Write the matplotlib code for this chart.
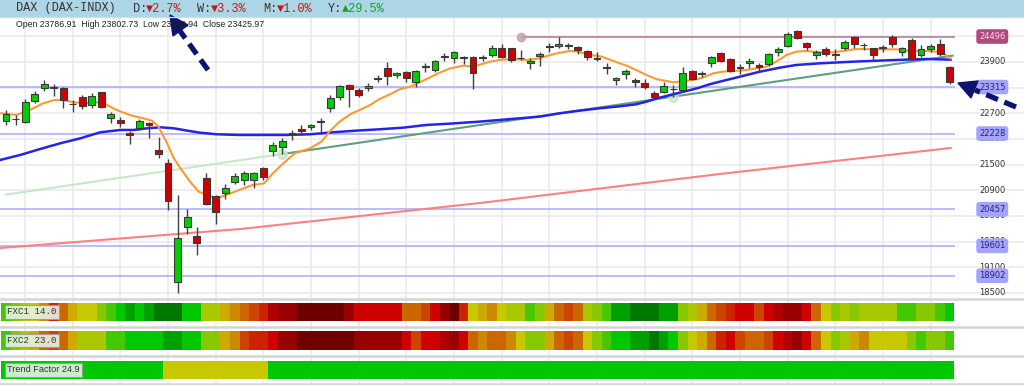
import matplotlib
matplotlib.use("Agg")
import matplotlib.pyplot as plt
import matplotlib.transforms as mtransforms
from matplotlib.patches import Rectangle, Polygon

# ---- daily candles (DAX), oldest first ----
opens = [22529, 22560, 22490, 22997, 23285, 23310, 23300, 22925, 23075, 22895,
         23191, 22584, 22545, 22233, 22350, 22482, 21844, 21532, 18767, 20050,
         19826, 21197, 20775, 20830, 21088, 21142, 21142, 21431, 21820, 21905,
         22240, 22326, 22381, 22500, 22817, 23075, 23363, 23246, 23285, 23512,
         23752, 23596, 23658, 23425, 23786, 23705, 24020, 23986, 24014, 24009,
         24004, 24064, 24235, 24235, 24001, 23869, 24040, 24253, 24274, 24278,
         24251, 24157, 24001, 23763, 23479, 23612, 23479, 23401, 23183, 23207,
         23264, 23246, 23697, 23630, 23869, 24103, 23962, 23770, 23884, 23830,
         23853, 24142, 24282, 24633, 24336, 24064, 24204, 24074, 24235, 24477,
         24292, 24220, 24230, 24492, 24126, 24414, 24064, 24204, 24321, 23787]
highs = [22778, 22662, 23035, 23222, 23472, 23378, 23310, 23012, 23129, 23184,
         23207, 22724, 22607, 22287, 22568, 22506, 22140, 21625, 20791, 20465,
         20035, 21298, 20791, 21041, 21298, 21352, 21330, 21454, 22038, 22116,
         22311, 22428, 22451, 22599, 23129, 23363, 23386, 23285, 23402, 23596,
         23908, 23674, 23690, 23713, 23869, 23947, 24103, 24157, 24048, 24048,
         24064, 24297, 24313, 24235, 24181, 23986, 24126, 24336, 24485, 24336,
         24282, 24181, 24142, 23869, 23557, 23736, 23534, 23495, 23230, 23440,
         23363, 23791, 23713, 23690, 24048, 24126, 23986, 23845, 23986, 23869,
         24103, 24258, 24609, 24648, 24375, 24181, 24258, 24204, 24414, 24516,
         24336, 24235, 24297, 24531, 24258, 24453, 24297, 24313, 24430, 23803]
lows = [22428, 22428, 22467, 22934, 23222, 23113, 22817, 22724, 22802, 22833,
        22817, 22467, 22389, 21976, 22311, 22132, 21664, 20441, 18494, 19871,
        19390, 20558, 20113, 20698, 21041, 21026, 20948, 21142, 21711, 21749,
        22077, 22233, 22311, 22210, 22740, 23012, 22856, 23090, 23222, 23440,
        23363, 23534, 23425, 23324, 23674, 23658, 23923, 23869, 23845, 23269,
        23923, 24009, 23986, 23908, 23947, 23736, 23814, 24126, 24220, 24204,
        24079, 23947, 23923, 23612, 23362, 23503, 23324, 23269, 23051, 23168,
        23090, 23207, 23479, 23557, 23791, 23892, 23674, 23612, 23752, 23697,
        23814, 24048, 24258, 24438, 24181, 23970, 24048, 23947, 24181, 24235,
        24181, 23923, 24142, 24258, 24048, 23947, 24025, 24142, 24048, 23381]
closes = [22677, 22560, 22973, 23145, 23378, 23295, 23020, 22915, 22872, 23105,
          22856, 22677, 22467, 22186, 22529, 22428, 21742, 20659, 19779, 20269,
          19661, 20574, 20401, 20947, 21244, 21314, 21314, 21220, 21960, 22054,
          22228, 22280, 22420, 22510, 23067, 23339, 23261, 23129, 23347, 23522,
          23581, 23635, 23534, 23690, 23796, 23923, 24030, 24126, 24004, 23651,
          24014, 24220, 24025, 23947, 23986, 23931, 24087, 24263, 24313, 24286,
          24173, 24009, 23962, 23773, 23534, 23697, 23425, 23324, 23074, 23339,
          23274, 23635, 23495, 23640, 24025, 23923, 23697, 23780, 23923, 23775,
          24079, 24196, 24547, 24453, 24258, 24142, 24079, 24084, 24360, 24313,
          24302, 24064, 24240, 24313, 24220, 23970, 24204, 24266, 24079, 23426]

# ---- overlays: (candle index, price) ----
fast_x = [-0.5, 1.1, 2.5, 3.9, 5.1, 6.0, 7.1, 8.1, 9.5, 10.6, 11.6, 12.5, 13.2, 14.4,
          15.3, 16.0, 16.9, 17.6, 18.3, 19.3, 20.2, 21.2, 22.1, 23.1, 24.5, 25.9,
          27.1, 28.0, 29.1, 30.3, 31.9, 33.1, 34.0, 35.0, 36.1, 37.1, 38.2, 39.2,
          40.3, 41.3, 42.4, 43.4, 44.5, 45.5, 46.6, 48.0, 49.0, 50.8, 51.8, 53.2,
          54.6, 56.0, 57.1, 58.1, 59.2, 60.0, 61.3, 62.5, 64.1, 65.1, 66.1, 67.2,
          68.3, 69.3, 70.0, 70.7, 72.1, 73.1, 74.2, 75.2, 76.3, 77.7, 78.7, 79.8,
          80.8, 81.9, 82.9, 84.0, 85.4, 86.8, 87.8, 88.9, 89.9, 91.0, 92.4, 93.4,
          94.4, 95.5, 96.6, 97.6, 98.5, 99.1]
fast_y = [22701, 22662, 22779, 22934, 23012, 23012, 22958, 22934, 22958, 22895, 22779,
          22701, 22646, 22584, 22529, 22389, 22000, 21649, 21415, 21104, 20870, 20777,
          20714, 20792, 20909, 21026, 21065, 21298, 21532, 21766, 21883, 22039, 22288,
          22506, 22677, 22779, 22895, 23036, 23145, 23262, 23324, 23425, 23542, 23651,
          23752, 23815, 23791, 23908, 23947, 23970, 23947, 23986, 24064, 24118, 24157,
          24142, 24064, 24025, 23892, 23815, 23713, 23596, 23495, 23456, 23425, 23441,
          23480, 23534, 23635, 23674, 23690, 23713, 23752, 23791, 23908, 24064, 24142,
          24157, 24126, 24126, 24157, 24196, 24204, 24196, 24196, 24196, 24165, 24157,
          24157, 24142, 24079, 23980]
slow_x = [-0.6, 1.5, 3.6, 5.7, 7.8, 9.9, 12.0, 13.4, 14.8, 16.2, 17.6, 19.0, 20.3,
          22.1, 24.5, 27.0, 29.4, 31.9, 34.3, 36.8, 39.2, 41.7, 44.1, 46.6, 49.7,
          51.8, 53.9, 56.0, 58.1, 60.2, 62.3, 64.4, 66.1, 67.2, 68.3, 69.3, 70.7,
          72.5, 73.8, 74.9, 77.0, 79.1, 81.2, 82.9, 85.4, 88.9, 92.4, 94.5, 96.6, 99.1]
slow_y = [21610, 21727, 21867, 22000, 22116, 22257, 22311, 22311, 22350, 22373, 22350,
          22296, 22249, 22210, 22194, 22194, 22194, 22210, 22257, 22296, 22327, 22366,
          22428, 22459, 22506, 22545, 22584, 22623, 22701, 22763, 22818, 22864, 22911,
          22973, 23051, 23106, 23184, 23285, 23378, 23441, 23557, 23674, 23768, 23830,
          23869, 23908, 23939, 23955, 23970, 23955]
long_x = [-0.63, 24.6, 49.7, 74.9, 99.1]
long_y = [19551, 19996, 20603, 21282, 21889]
trend_x = [0, 29, 70, 99.3]
trend_y = [20800, 21749, 23090, 24048]

levels = [23315, 22228, 20457, 19601, 18902]
resist = 24496
resist_from = 54
price_ticks = [18500, 19100, 19700, 20300, 20900, 21500, 22100, 22700, 23300, 23900]

# ---- colour-coded indicator rows (0 = deep red ... 15 = deep green) ----
palette = ["#6e0000", "#990000", "#b00000", "#d00000", "#cc2200", "#cc4400",
           "#cc6600", "#cc8800", "#ccaa00", "#c8c800", "#aac800", "#88c800",
           "#44c800", "#00c800", "#00a000", "#007800"]
fxc1 = [12, 11, 10, 9, 7, 4, 6, 8, 9, 9,
        11, 12, 13, 14, 13, 14, 15, 15, 15, 13,
        13, 10, 10, 8, 7, 6, 5, 4, 2, 1,
        1, 0, 0, 0, 0, 0, 1, 3, 3, 3,
        3, 3, 6, 6, 5, 3, 1, 0, 4, 9,
        8, 7, 9, 10, 10, 12, 11, 8, 6, 5,
        6, 10, 11, 12, 14, 14, 15, 15, 15, 14,
        14, 11, 10, 8, 6, 5, 4, 3, 3, 5,
        3, 2, 1, 1, 3, 6, 9, 11, 10, 11,
        10, 10, 10, 10, 12, 12, 11, 11, 12, 13]
fxc2 = [12, 11, 10, 8, 6, 5, 6, 8, 10, 10,
        10, 12, 12, 13, 13, 13, 13, 14, 14, 13,
        13, 11, 11, 8, 7, 5, 4, 4, 3, 1,
        1, 0, 0, 0, 0, 0, 0, 1, 1, 1,
        1, 1, 3, 5, 3, 3, 2, 1, 3, 6,
        7, 6, 6, 7, 9, 11, 11, 8, 6, 5,
        6, 9, 11, 12, 13, 13, 14, 14, 15, 14,
        13, 11, 9, 8, 6, 4, 3, 5, 6, 6,
        5, 3, 2, 1, 3, 6, 9, 11, 10, 8,
        7, 9, 9, 9, 9, 11, 12, 11, 11, 12]
trend = [13] * 17 + [9] * 11 + [13] * 72

W, H = 1024, 385
XMIN, XMAX = -0.63, 106.8


def rect(x0, y0, x1, y1):
    return [x0 / W, 1 - y1 / H, (x1 - x0) / W, (y1 - y0) / H]


fig = plt.figure(figsize=(W / 100, H / 100), dpi=100)
fig.patch.set_facecolor("white")

# price panel
ax = fig.add_axes(rect(0, 17, W, 297))
ax.set_xlim(XMIN, XMAX)
ax.set_ylim(18406, 24952)
ax.axis("off")
for t in price_ticks + [24500]:
    ax.axhline(t, color="#ebebeb", lw=1.2, zorder=0)
for g in range(2, 100, 5):
    ax.axvline(g, color="#ebebeb", lw=1.2, zorder=0)

ax.hlines(levels, XMIN, 99.6, color="#a8a8ff", lw=1.1, zorder=1)
ax.hlines(resist, resist_from, 99.6, color="#a87890", lw=1.1, zorder=1)
ax.plot(resist_from, resist, "o", ms=6, color="#c0a0b0", alpha=0.8, zorder=2)

ax.plot(long_x, long_y, color="#ff8080", lw=1.5, zorder=2)
ax.plot(trend_x[:2], trend_y[:2], color="#c8e6c8", lw=1.5, zorder=2)
ax.plot(trend_x[1:], trend_y[1:], color="#5f9e80", lw=1.5, zorder=2)
ax.plot(trend_x[1:3], trend_y[1:3], "o", ms=7, color="#c8e6c8", alpha=0.8, zorder=2)
ax.plot(slow_x, slow_y, color="#2424e8", lw=1.8, zorder=3)
ax.plot(fast_x, fast_y, color="#ff9a30", lw=1.5, zorder=3)

idx = list(range(len(closes)))
ax.vlines(idx, lows, highs, color="#404040", lw=1.0, zorder=4)
body_col = ["#00cc00" if c >= o else "#cc0000" for o, c in zip(opens, closes)]
body_h = [c - o for o, c in zip(opens, closes)]
ax.bar(idx, body_h, bottom=opens, width=0.72, color=body_col,
       edgecolor="#3a3a3a", linewidth=0.8, zorder=5)

lab_tr = mtransforms.blended_transform_factory(ax.transAxes, ax.transData)
for t in price_ticks:
    ax.text(0.969, t, str(t), transform=lab_tr, ha="center", va="center",
            fontsize=6, color="#333333", zorder=6)
for lv in levels:
    ax.text(0.969, lv, str(lv), transform=lab_tr, ha="center", va="center",
            fontsize=6, color="#22228a", zorder=7,
            bbox=dict(boxstyle="round,pad=0.25", fc="#a4a4f8", ec="#a4a4f8"))
ax.text(0.969, resist, str(resist), transform=lab_tr, ha="center", va="center",
        fontsize=6, color="#f4d8e6", zorder=7,
        bbox=dict(boxstyle="round,pad=0.25", fc="#b04a7c", ec="#b04a7c"))

# indicator rows
ind = fig.add_axes(rect(0, 297, W, H))
ind.set_xlim(XMIN, XMAX)
ind.set_ylim(H, 297)
ind.axis("off")
for g in range(2, 100, 5):
    ind.axvline(g, color="#ebebeb", lw=1.2, zorder=0)
for yy in [298.5, 326.5, 355.5, 383.5]:
    ind.axhline(yy, color="#d4d4d4", lw=1.8, zorder=0)
ind.bar(idx, 18, bottom=303, width=1.0, color=[palette[v] for v in fxc1], zorder=1)
ind.bar(idx, 19, bottom=331, width=1.0, color=[palette[v] for v in fxc2], zorder=1)
ind.bar(idx, 18, bottom=361, width=1.0, color=[palette[v] for v in trend], zorder=1)

# overlay in pixel coordinates: header, captions, arrows
ov = fig.add_axes([0, 0, 1, 1], zorder=10)
ov.set_xlim(0, W)
ov.set_ylim(H, 0)
ov.axis("off")
ov.patch.set_alpha(0)
ov.add_patch(Rectangle((0, 0), W, 17, fc="#acd6e6", ec="none"))
ov.plot([0, W], [17, 17], color="#c8dfe8", lw=1)

mono = ["Liberation Mono", "DejaVu Sans Mono"]
hdr = [(16, "DAX (DAX-INDX)", "#333333"),
       (133, "D:", "#333333"), (146, "\u25bc2.7%", "#c01818"),
       (197, "W:", "#333333"), (211, "\u25bc3.3%", "#c01818"),
       (263, "M:", "#333333"), (277, "\u25bc1.0%", "#c01818"),
       (328, "Y:", "#333333"), (342, "\u25b229.5%", "#18a018")]
for x, s, c in hdr:
    ov.text(x, 8.5, s, family=mono, fontsize=8.6, color=c, ha="left", va="center")

ov.text(16, 24.5, "Open 23786.91  High 23802.73  Low 23380.94  Close 23425.97",
        family="Liberation Sans", fontsize=6.3, color="#222222",
        ha="left", va="center")

box = dict(boxstyle="square,pad=0.25", fc="#e4f2e4", ec="#9a9a9a", lw=0.8, alpha=0.9)
ov.text(7, 312, "FXC1 14.0", family=mono, fontsize=6.6, color="#333333",
        ha="left", va="center", bbox=box)
ov.text(7, 340.5, "FXC2 23.0", family=mono, fontsize=6.6, color="#333333",
        ha="left", va="center", bbox=box)
ov.text(7, 370, "Trend Factor 24.9", family="Liberation Sans", fontsize=6.6,
        color="#333333", ha="left", va="center", bbox=box)

navy = "#0c1470"
arrows = [((208, 70), (180, 31), [(170, 15), (188, 25), (173, 36)]),
          ((1016, 107), (975, 90), [(958, 83), (978, 81), (971, 98)])]
for tail, base, head in arrows:
    ov.plot([tail[0], base[0]], [tail[1], base[1]], color=navy, lw=3.8,
            linestyle=(0, (2.4, 1.3)), solid_capstyle="butt")
    ov.add_patch(Polygon(head, closed=True, fc=navy, ec=navy))

fig.savefig("out.png", dpi=100)
